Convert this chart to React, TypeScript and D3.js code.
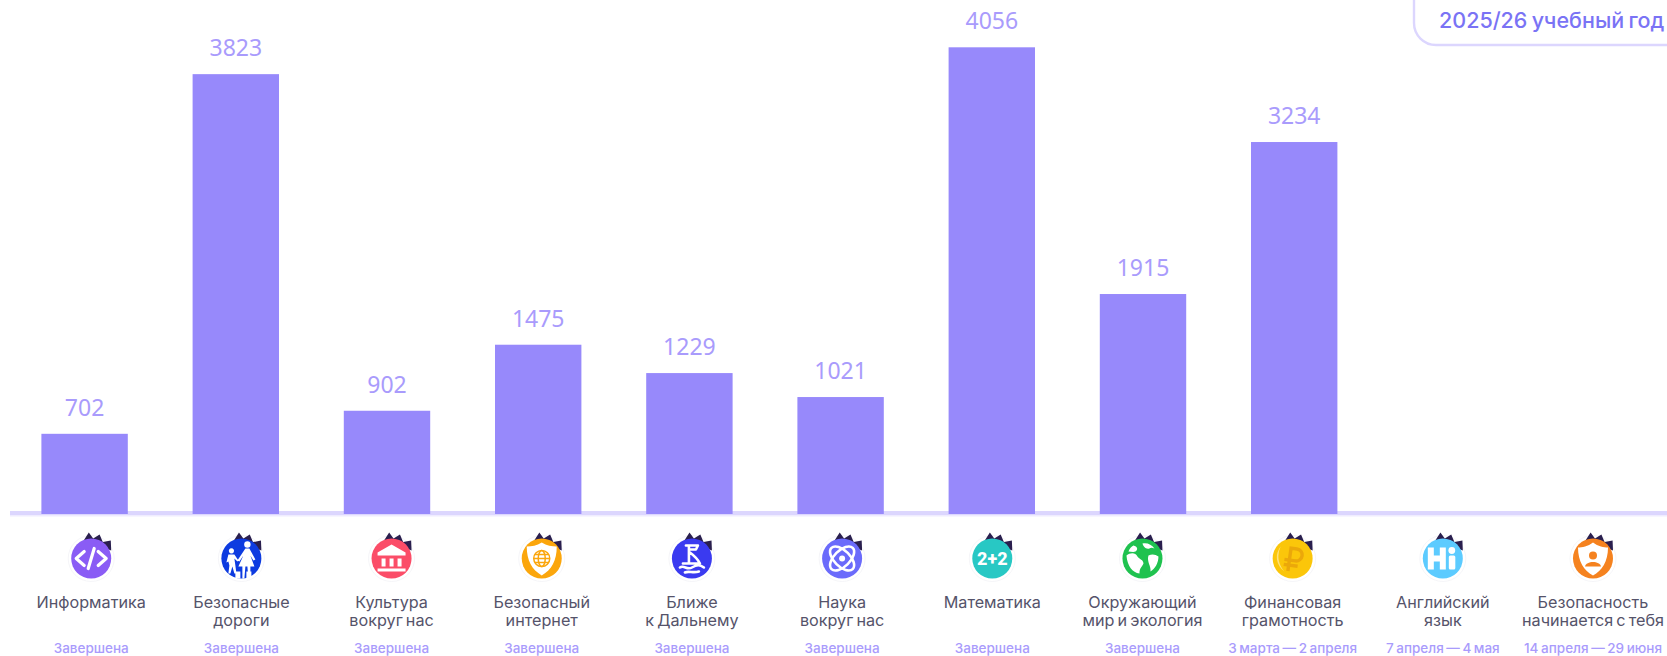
import React from "react";
import * as d3 from "d3";

const WIDTH = 1667;
const HEIGHT = 656;

const categories = ["Информатика","Безопасные дороги","Культура вокруг нас","Безопасный интернет","Ближе к Дальнему","Наука вокруг нас","Математика","Окружающий мир и экология","Финансовая грамотность","Английский язык","Безопасность начинается с тебя"];
const labelLines = [["Информатика"],["Безопасные","дороги"],["Культура","вокруг нас"],["Безопасный","интернет"],["Ближе","к Дальнему"],["Наука","вокруг нас"],["Математика"],["Окружающий","мир и экология"],["Финансовая","грамотность"],["Английский","язык"],["Безопасность","начинается с тебя"]];
const values: (number | null)[] = [702,3823,902,1475,1229,1021,4056,1915,3234,null,null];
const statuses = ["Завершена","Завершена","Завершена","Завершена","Завершена","Завершена","Завершена","Завершена","3 марта — 2 апреля","7 апреля — 4 мая","14 апреля — 29 июня"];
const iconColors = ["#8a5cf5","#0d3be0","#fb4d68","#fba60c","#3a3af0","#6b6bfb","#28c8c4","#1fc24f","#fbc60a","#5ccbff","#f5821f"];

const PURPLE = "#9789fb";
const LABEL = "#a99bfc";
const FONT = "Inter, Roboto, sans-serif";
const BASE = 514;

function Icon({ i, r }: { i: number; r: number }) {
  const w = "#fff";
  const c = iconColors[i];
  const sw = { fill: "none", stroke: w, strokeLinecap: "round" as const, strokeLinejoin: "round" as const };
  let glyph: React.ReactNode = null;
  if (i === 0) glyph = <g {...sw} strokeWidth={3.2}><path d="M-7-7-15 0-7 7M7-7 15 0 7 7M3-10-3 10" /></g>;
  if (i === 1) glyph = <g fill={w}><circle cx={6} cy={-14} r={3.2} /><path d="M4-10h4l6 11-2 1-3-5 4 11h-4l0 12h-2l-1-12-2 0-1 12h-2l0-12h-4l5-11-4 6-2-1zM-10-5a2.6 2.6 0 1 1 .1 0zM-13-4h6l4 6-1 1-3-3 1 7 1 8h-2l-2-7-2 7h-2l1-8-1-4-2 1z" /><path d="M-6 13h5v7h-5zM5 13h5v7h-5z" /></g>;
  if (i === 2) glyph = <g fill={w}><path d="M0-14-14-6v3h28v-3zM-14 10h28v3h-28zM-10 0h4v8h-4zM-2 0h4v8h-4zM6 0h4v8h-4z" /></g>;
  if (i === 3) glyph = <g><path d="M0-16C5-13 10-12 15-12 15 2 10 11 0 17-10 11-15 2-15-12-10-12-5-13 0-16Z" fill={w} /><g fill="none" stroke="#fba60c" strokeWidth={1.5}><circle r={8} /><ellipse rx={3.5} ry={8} /><path d="M-8 0h16M-7-4h14M-7 4h14" /></g></g>;
  if (i === 4) glyph = <g {...sw} strokeWidth={2.6}><path d="M-6-13H6L4-9H-3M-3-13V5M-2-6C2-3 6 1 8 5H-9L-9 5M-12 9C-8 6-5 12 0 9S8 6 12 9M-7 14C-3 12 1 15 7 13" /></g>;
  if (i === 5) glyph = <g {...sw} strokeWidth={2.6}><ellipse rx={15} ry={8} transform="rotate(45)" /><ellipse rx={15} ry={8} transform="rotate(-45)" /><circle r={3} fill={w} stroke="none" /></g>;
  if (i === 6) glyph = <text textAnchor="middle" y={6.5} fontSize={18} fontWeight={800} fill={w} fontFamily="Roboto, sans-serif">2+2</text>;
  if (i === 7) glyph = <g fill={w}><path d="M-16-3C-12-6-7-6-5-2-3 1 1 1 1 5 0 8-3 9-3 15-10 14-15 8-16-3ZM-9-13C-5-12-4-9-7-7-9-6-12-7-14-7-13-10-11-12-9-13ZM0-15C1-12 3-9 7-10 8-11 10-11 12-10 9-14 5-16 0-15ZM6-3C10-5 13-4 16-2 16 4 13 10 8 13 9 8 4 3 6-3Z" /></g>;
  if (i === 8) glyph = <g><path d="M-12-12A17 17 0 0 0-8 13 22 22 0 0 1-12-12Z" fill="#fde27a" /><g transform="rotate(8)"><path d="M-3 13V-10H3A6 6 0 0 1 3 2H-8M-8 7H6" fill="none" stroke="#eba80a" strokeWidth={3.4} /></g></g>;
  if (i === 9) glyph = <g fill={w}><path d="M-15-11h6v8h6v-8h6v22h-6V3h-6v8h-6z" /><circle cx={9} cy={-8} r={3.4} /><rect x={6} y={-3} width={6.5} height={14} rx={1.5} /></g>;
  if (i === 10) glyph = <g><path d="M0-16C5-12 11-11 15-11 15 3 9 12 0 17-9 12-15 3-15-11-11-11-5-12 0-16Z" fill={w} /><circle cy={-3} r={4} fill={c} /><path d="M-8 8C-7 2 7 2 8 8Z" fill={c} /></g>;
  return (
    <g>
      <circle r={r + 3} fill="#fff" stroke="#eeeef3" strokeWidth={0.6} />
      <path d={`M${-r * 0.36} ${-r * 0.92}L${-r * 0.12} ${-r * 1.3}L${r * 0.1} ${-r * 1.0}L${r * 0.42} ${-r * 1.2}L${r * 0.58} ${-r * 0.82}L${r * 0.98} ${-r * 0.9}L${r * 1.0} ${-r * 0.4}Z`} fill="#2a1f4e" />
      <circle r={r} fill={c} />
      <g transform={`scale(${r / 20})`}>{glyph}</g>
    </g>
  );
}

export default function App() {
  const x = d3.scaleBand<string>().domain(categories).range([9, 9 + 151.2 * 11]).paddingInner(1 - 86.4 / 151.2).paddingOuter((1 - 86.4 / 151.2) / 2);
  const labelX = d3.scalePoint<string>().domain(categories).range([91.2, 1593]);
  const y = d3.scaleLinear().domain([0, 4056]).range([514.7, 47.3]);
  const valid = categories.map((c, i) => ({ c, v: values[i] })).filter((d) => d.v != null) as { c: string; v: number }[];

  return (
    <svg width={WIDTH} height={HEIGHT} viewBox={`0 0 ${WIDTH} ${HEIGHT}`} style={{ position: "absolute", left: 0, top: 0, display: "block", background: "#fff" }}>
      <rect x={10} y={511} width={WIDTH - 10} height={4} fill="#dcd6fe" />
      <rect x={10} y={515} width={WIDTH - 10} height={1.5} fill="#efecff" />
      {valid.map((d) => (
        <g key={d.c}>
          <rect x={x(d.c)} y={y(d.v)} width={x.bandwidth()} height={BASE - y(d.v)} fill={PURPLE} />
          <text x={x(d.c)! + x.bandwidth() / 2} y={y(d.v) - 18} textAnchor="middle" fontSize={23} fontFamily="'Noto Sans', sans-serif" fill={LABEL}>{d.v}</text>
        </g>
      ))}
      {categories.map((c, i) => (
        <g key={c} transform={`translate(${labelX(c)},0)`}>
          <g transform="translate(0,558.5)"><Icon i={i} r={20} /></g>
          {labelLines[i].map((t, j) => (
            <text key={t} y={607.5 + j * 18.5} textAnchor="middle" fontSize={16.2} wordSpacing={-1.4} fontFamily={FONT} fill="#55536a">{t}</text>
          ))}
          <text y={653} textAnchor="middle" fontSize={13.5} wordSpacing={-1} fontWeight={500} fontFamily={FONT} fill={LABEL}>{statuses[i]}</text>
        </g>
      ))}
      <rect x={1414} y={-30} width={300} height={75} rx={22} fill="#fff" stroke="#dcd6fe" strokeWidth={2.4} />
      <text x={1439} y={27.5} fontSize={21.5} wordSpacing={-1.5} fontWeight={500} fontFamily={FONT} fill="#7a73f5">2025/26 учебный год</text>
    </svg>
  );
}
